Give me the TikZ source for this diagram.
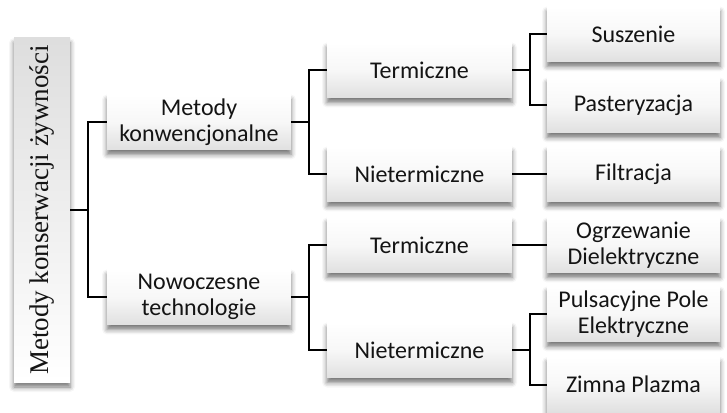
\documentclass[tikz,border=0pt]{standalone}
\usepackage{fontspec}
\setmainfont{Carlito}
\newfontfamily\rootfont{Liberation Serif}
\usetikzlibrary{shadows.blur}
\begin{document}
\begin{tikzpicture}[x=1pt,y=1pt,
  box/.style={rectangle, inner sep=2pt, align=center,
    top color=white, bottom color=black!12, middle color=white!97!black, draw=none,
    blur shadow={shadow xshift=0pt, shadow yshift=-5pt, shadow blur radius=5pt, shadow opacity=55},
    font=\fontsize{24}{26}\selectfont, text=black!92},
  lvlone/.style={box, minimum width=184pt, minimum height=55pt},
  lvltwo/.style={box, minimum width=185pt, minimum height=55pt},
  lvlthree/.style={box, minimum width=173pt, minimum height=55pt},
  link/.style={draw=black, line width=2pt}]
\useasboundingbox (0,0) rectangle (727,412);

% root of the tree, written upwards
\node[box, rotate=90, minimum width=344pt, minimum height=56pt,
      top color=black!13, bottom color=white,
      font=\rootfont\fontsize{27}{30}\selectfont] (root) at (42,202)
      {Metody konserwacji żywności};

% first level
\node[lvlone] (konw) at (199,290) {Metody\\konwencjonalne};
\node[lvlone] (nowo) at (199,115) {Nowoczesne\\technologie};

% second level
\node[lvltwo] (kterm) at (419.5,342) {Termiczne};
\node[lvltwo] (knter) at (419.5,238) {Nietermiczne};
\node[lvltwo] (nterm) at (419.5,167) {Termiczne};
\node[lvltwo] (nnter) at (419.5,62)  {Nietermiczne};

% leaves
\node[lvlthree] (susz) at (633.5,378) {Suszenie};
\node[lvlthree] (past) at (633.5,307) {Pasteryzacja};
\node[lvlthree] (filt) at (633.5,238) {Filtracja};
\node[lvlthree] (ogrz) at (633.5,167) {Ogrzewanie\\Dielektryczne};
\node[lvlthree] (puls) at (633.5,98)  {Pulsacyjne Pole\\Elektryczne};
\node[lvlthree] (zimn) at (633.5,27.5) {Zimna Plazma};

% elbow connectors
\draw[link] (root.south) -- ++(18,0) |- (konw.west);
\draw[link] (root.south) -- ++(18,0) |- (nowo.west);

\draw[link] (konw.east) -- ++(17.5,0) |- (kterm.west);
\draw[link] (konw.east) -- ++(17.5,0) |- (knter.west);
\draw[link] (nowo.east) -- ++(17.5,0) |- (nterm.west);
\draw[link] (nowo.east) -- ++(17.5,0) |- (nnter.west);

\draw[link] (kterm.east) -- ++(18,0) |- (susz.west);
\draw[link] (kterm.east) -- ++(18,0) |- (past.west);
\draw[link] (knter.east) -- (filt.west);
\draw[link] (nterm.east) -- (ogrz.west);
\draw[link] (nnter.east) -- ++(18,0) |- (puls.west);
\draw[link] (nnter.east) -- ++(18,0) |- (zimn.west);
\end{tikzpicture}
\end{document}
